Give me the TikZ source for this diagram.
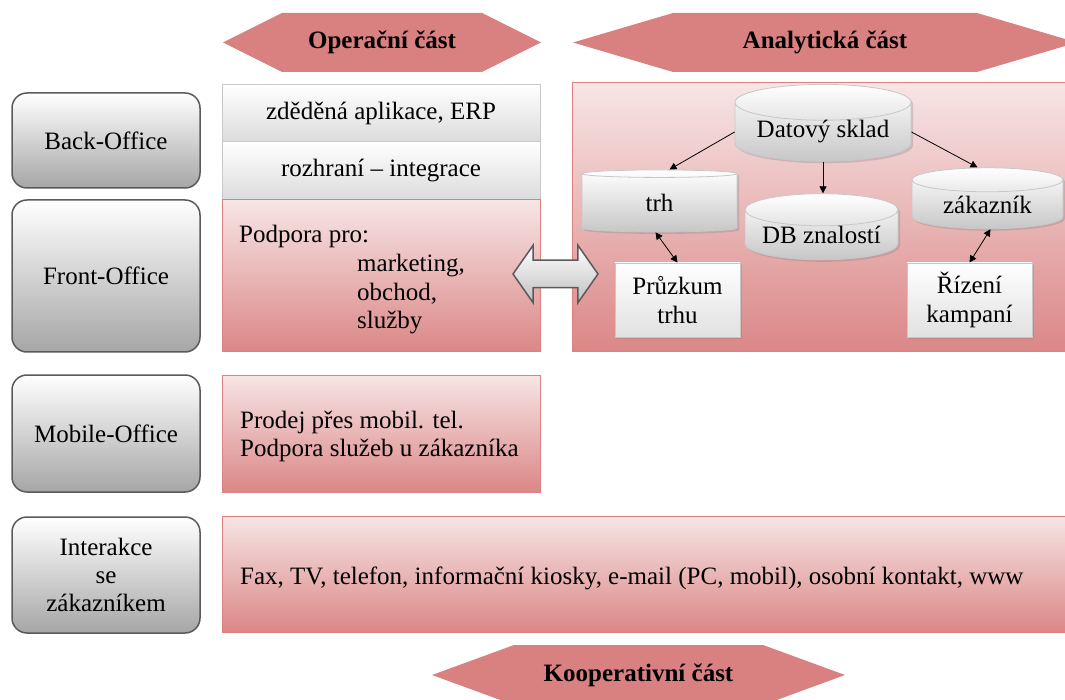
\documentclass[tikz,border=0pt]{standalone}
\usepackage{fontspec}
\setmainfont{Liberation Serif}
\usetikzlibrary{shapes.geometric,shapes.arrows,shadows,arrows.meta,positioning}

\definecolor{salmon}{RGB}{217,128,128}
\definecolor{blush}{RGB}{247,229,229}
\definecolor{pinkedge}{RGB}{221,128,128}
\definecolor{officeedge}{RGB}{90,90,90}
\definecolor{layeredge}{RGB}{200,200,200}

\begin{document}
\begin{tikzpicture}[
    x=1pt, y=-1pt,
    font=\fontsize{25}{28.5}\selectfont,
    office/.style={draw=officeedge, line width=1.5pt, rounded corners=15pt, top color=white, bottom color=black!35, minimum width=188pt, align=center},
    layer/.style={draw=layeredge, line width=1pt, top color=white, bottom color=black!14, minimum width=318pt, minimum height=58pt},
    pinkbox/.style={draw=pinkedge, line width=1pt, top color=blush, bottom color=salmon!95!white},
    partlabel/.style={font=\fontsize{25}{28.5}\selectfont\bfseries},
    store/.style={cylinder, shape border rotate=90, shape aspect=0.27, draw=black!22, line width=0.8pt, top color=white, bottom color=black!22, inner sep=0pt, drop shadow={shadow xshift=2pt, shadow yshift=-2pt, opacity=0.3}},
    unit/.style={draw=black!22, line width=0.8pt, top color=white, bottom color=black!12, minimum width=125pt, minimum height=74pt, align=center, drop shadow={shadow xshift=2pt, shadow yshift=-2pt, opacity=0.3}},
    flow/.style={-{Triangle[length=7pt,width=7pt]}, line width=0.8pt},
    biflow/.style={{Triangle[length=7pt,width=7pt]}-{Triangle[length=7pt,width=7pt]}, line width=0.8pt}
]
    \clip (0,0) rectangle (1065,700);

    % header and footer parts
    \fill[salmon] (223,42.5) -- (282,13) -- (482,13) -- (541,42.5) -- (482,72) -- (282,72) -- cycle;
    \node[partlabel] (oppart) at (382,42.5) {Operační část};
    \fill[salmon] (573,42.5) -- (673,13) -- (977,13) -- (1077,42.5) -- (977,72) -- (673,72) -- cycle;
    \node[partlabel] (anpart) at (825,42.5) {Analytická část};
    \fill[salmon] (432,675) -- (514,645) -- (763,645) -- (845,675) -- (763,705) -- (514,705) -- cycle;
    \node[partlabel] (copart) at (638.5,675) {Kooperativní část};

    % office levels
    \node[office, minimum height=95pt] (back) at (106,140.5) {Back-Office};
    \node[office, minimum height=152pt] (front) at (106,276) {Front-Office};
    \node[office, minimum height=117pt] (mobile) at (106,433.5) {Mobile-Office};
    \node[office, minimum height=116pt, font=\fontsize{25}{28}\selectfont] (contact) at (106,575) {Interakce\\se\\zákazníkem};

    % operational part
    \node[layer] (erp) at (381,113.5) {zděděná aplikace, ERP};
    \node[layer] (api) at (381,171) {rozhraní – integrace};
    \node[pinkbox, minimum width=318pt, minimum height=152pt] (support) at (381,276) {};
    \node[anchor=base west, inner sep=0pt] (supporthead) at (239,243) {Podpora pro:};
    \node[anchor=base west, align=left, inner sep=0pt] (supportlist) at (357,329) {marketing,\\obchod,\\služby};
    \node[pinkbox, minimum width=318pt, minimum height=117pt] (mobilebox) at (381,433.5) {};
    \node[anchor=base west, align=left, inner sep=0pt] (mobiletext) at (240,456.5) {Prodej přes mobil. tel.\\Podpora služeb u zákazníka};
    \node[pinkbox, minimum width=844pt, minimum height=116pt] (channels) at (644,574) {};
    \node[anchor=base west, inner sep=0pt] (channeltext) at (240,584) {Fax, TV, telefon, informační kiosky, e-mail (PC, mobil), osobní kontakt, www};

    % analytical part
    \node[pinkbox, minimum width=494pt, minimum height=269pt] (analytic) at (819,217.5) {};
    \node[store, minimum width=176pt, minimum height=66pt] (dw) at (823,132) {Datový sklad};
    \node[store, minimum width=155pt, minimum height=62pt] (market) at (659.5,203) {trh};
    \node[store, minimum width=153pt, minimum height=60pt] (knowledge) at (821.5,235) {DB znalostí};
    \node[store, minimum width=151pt, minimum height=61pt] (customer) at (987.5,204.5) {zákazník};
    \node[unit] (survey) at (677.5,300) {Průzkum\\trhu};
    \node[unit] (campaign) at (969.5,300) {Řízení\\kampaní};

    \draw[flow] (dw.west) -- ([xshift=10pt]market.north);
    \draw[flow] (dw.south) -- (dw.south |- knowledge.north);
    \draw[flow] (dw.east) -- ([xshift=-10pt]customer.north);
    \draw[biflow] ([xshift=-4pt]market.south) -- (survey.north);
    \draw[biflow] ([xshift=3pt]customer.south) -- (campaign.north);

    \node[double arrow, double arrow head extend=15pt, double arrow tip angle=110, inner xsep=0pt, inner ysep=13pt, minimum height=85pt, minimum width=56pt, draw=officeedge, line width=1.5pt, top color=white, bottom color=black!25] (link) at (555.5,274) {};
\end{tikzpicture}
\end{document}
